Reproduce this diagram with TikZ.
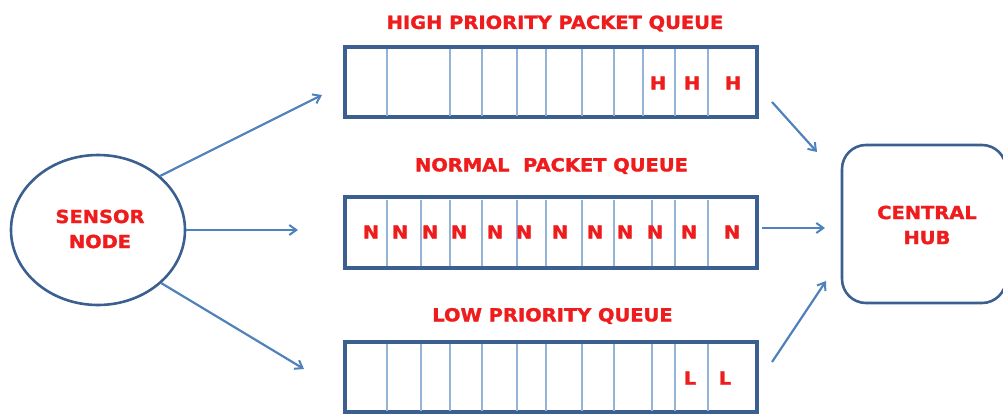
\documentclass[tikz,border=0pt]{standalone}
\usepackage{fontspec}
\usetikzlibrary{shapes.geometric,arrows.meta}
\newfontfamily\lbl{DejaVu Sans}[FakeStretch=1.08,BoldFeatures={FakeStretch=1.08,FakeBold=1.6}]
\definecolor{outl}{HTML}{3B5F8F}
\definecolor{divc}{HTML}{95B3D7}
\definecolor{arrc}{HTML}{4F81BD}
\definecolor{redt}{HTML}{EE1C1C}
\tikzset{
  lbltext/.style={text=redt,font=\lbl\bfseries\fontsize{18}{21}\selectfont,inner sep=0pt,align=center},
  letter/.style={text=redt,font=\lbl\bfseries\fontsize{18}{21}\selectfont,inner sep=0pt},
  queuebox/.style={draw=outl,line width=2.6pt,minimum width=410pt,minimum height=69pt,inner sep=0pt},
  divline/.style={draw=divc,line width=1.4pt},
  conn/.style={draw=arrc,line width=2.2pt,-{Straight Barb[length=7pt,width=10pt,line width=2pt]}},
}
\begin{document}
\begin{tikzpicture}[x=1pt,y=-1pt]
\useasboundingbox (0,0) rectangle (1003,415);
% sensor
\node[ellipse,draw=outl,line width=2.6pt,minimum width=174pt,minimum height=150pt,inner sep=0pt] (sensor) at (98,230) {};
\node[lbltext] (sensortxt) at (100,229) {SENSOR\\[4pt]NODE};
% hub
\node[draw=outl,line width=2.6pt,rounded corners=24pt,minimum width=164pt,minimum height=158pt,inner sep=0pt] (hub) at (924,224) {};
\node[lbltext] (hubtxt) at (927,225) {CENTRAL\\[4pt]HUB};
% queues
\node[queuebox] (qh) at (551,82) {};
\node[queuebox] (qn) at (551,232.5) {};
\node[queuebox] (ql) at (551,377) {};
% dividers
\foreach \x in {387,450,482,517,546,582,614,643,675,708}{
  \draw[divline] (\x,48.5) -- (\x,115.5);
}
\foreach \x in {387,421,450,482,517,546,582,614,652,675,708}{
  \draw[divline] (\x,199.5) -- (\x,265.5);
  \draw[divline] (\x,343.5) -- (\x,410.5);
}
\draw[outl,line width=2.6pt] (qh.north west) rectangle (qh.south east);
\draw[outl,line width=2.6pt] (qn.north west) rectangle (qn.south east);
\draw[outl,line width=2.6pt] (ql.north west) rectangle (ql.south east);
% titles
\node[lbltext] (th) at (555,23.5) {HIGH PRIORITY PACKET QUEUE};
\node[lbltext] (tn) at (551.5,166) {NORMAL\ \ PACKET QUEUE};
\node[lbltext] (tl) at (552.5,316) {LOW PRIORITY QUEUE};
% letters
\foreach \x [count=\i] in {658,692,733}{ \node[letter] (h\i) at (\x,83) {H}; }
\foreach \x [count=\i] in {371,400,430,459,495,524,560,595,625,655,689,732}{ \node[letter] (n\i) at (\x,232) {N}; }
\foreach \x [count=\i] in {690,725}{ \node[letter] (l\i) at (\x,378) {L}; }
% arrow end coordinates
\coordinate (ah) at (322,95);
\coordinate (an) at (298,230);
\coordinate (al) at (304,369);
\coordinate (sh) at (772,102);
\coordinate (eh) at (817,152);
\coordinate (sn) at (762,228);
\coordinate (en) at (825,228);
\coordinate (sl) at (772,362);
\coordinate (el) at (826,281);
% connectors
\draw[conn] (sensor.41) -- (ah);
\draw[conn] (sensor.0) -- (an);
\draw[conn] (sensor.-40) -- (al);
\draw[conn] (sh) -- (eh);
\draw[conn] (sn) -- (en);
\draw[conn] (sl) -- (el);
\end{tikzpicture}
\end{document}
